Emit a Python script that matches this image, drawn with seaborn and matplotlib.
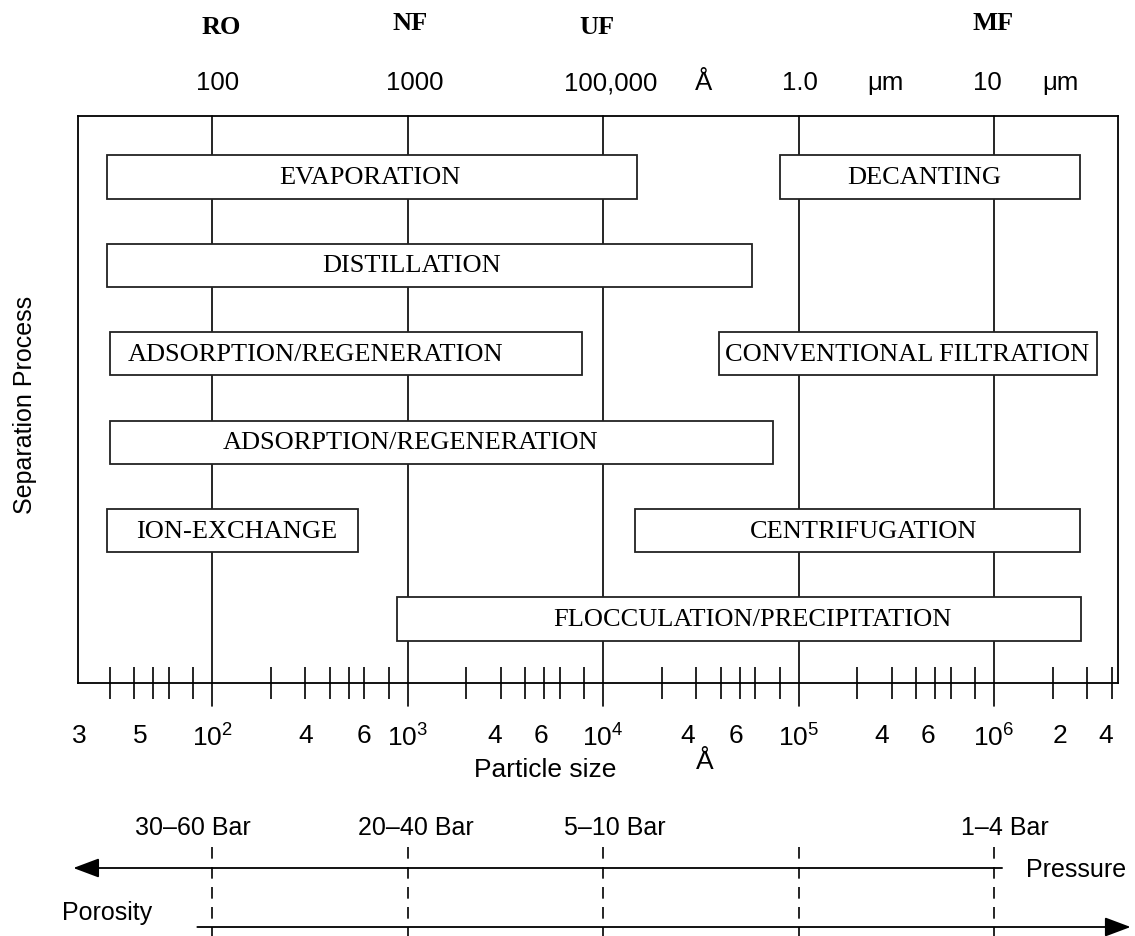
import numpy as np
import matplotlib
matplotlib.use("Agg")
import matplotlib.pyplot as plt
import matplotlib.transforms as mtransforms
from matplotlib.ticker import FixedLocator, NullFormatter
import seaborn as sns

sns.set_theme(style="white")
plt.rcParams["font.family"] = ["Liberation Sans", "DejaVu Sans"]
plt.rcParams["mathtext.default"] = "regular"

SERIF = ["Liberation Serif", "DejaVu Serif"]

# ── Data (particle size in Angstrom) ─────────────────────────────────────────
processes = ["EVAPORATION", "DECANTING", "DISTILLATION",
             "ADSORPTION/REGENERATION", "CONVENTIONAL FILTRATION",
             "ADSORPTION/REGENERATION", "ION-EXCHANGE", "CENTRIFUGATION",
             "FLOCCULATION/PRECIPITATION"]
rows = [0, 0, 1, 2, 2, 3, 4, 4, 5]
size_from = [29, 80000, 29, 30, 39000, 30, 29, 14500, 880]
size_to = [15000, 2.75e6, 58000, 7800, 3.35e6, 74000, 560, 2.75e6, 2.8e6]
label_at = [640, 4.4e5, 1050, 340, 3.6e5, 1040, 134, 2.16e5, 57800]

decades = [1e2, 1e3, 1e4, 1e5, 1e6]
minor_ticks = [30, 40, 50, 60, 80,
               200, 300, 400, 500, 600, 800,
               2000, 3000, 4000, 5000, 6000, 8000,
               2e4, 3e4, 4e4, 5e4, 6e4, 8e4,
               2e5, 3e5, 4e5, 5e5, 6e5, 8e5,
               2e6, 3e6, 4e6]
tick_pos = [21, 43, 100, 300, 600, 1000, 2800, 4800, 1e4,
            27000, 47600, 1e5, 2.67e5, 4.6e5, 1e6, 2.18e6, 3.74e6]
tick_text = ["3", "5", "$10^2$", "4", "6", "$10^3$", "4", "6", "$10^4$",
             "4", "6", "$10^5$", "4", "6", "$10^6$", "2", "4"]

membranes = ["RO", "NF", "UF", "MF"]
membrane_x = [112, 1030, 9300, 9.9e5]
scale_text = ["100", "1000", "100,000", "Å", "1.0", "μm", "10", "μm"]
scale_x = [107, 1090, 10900, 32500, 1.02e5, 2.8e5, 9.3e5, 2.18e6]

pressures = ["30–60 Bar", "20–40 Bar", "5–10 Bar", "1–4 Bar"]
pressure_x = [80, 1100, 11500, 1.14e6]

XLIM = (20.6, 4.31e6)
W, H = 1135, 937


def fy(py):
    return 1 - py / H


# ── Main panel ───────────────────────────────────────────────────────────────
fig = plt.figure(figsize=(W / 100, H / 100), dpi=100)
ax = fig.add_axes([78 / W, fy(684), (1118 - 78) / W, (684 - 117) / H])
ax.set_xscale("log")
ax.set_xlim(*XLIM)
ax.set_ylim(5.724, -0.69)

for d in decades:
    ax.axvline(d, ymin=-0.04, ymax=1, color="black", lw=1.2, zorder=1,
               clip_on=False)

ax.barh(rows, width=np.array(size_to) - np.array(size_from), left=size_from,
        height=0.49, color="white", edgecolor="#222222", linewidth=1.3,
        zorder=3)
for name, r, lx in zip(processes, rows, label_at):
    ax.text(lx, r, name, ha="center", va="center", fontsize=19,
            family=SERIF, color="black", zorder=4)

for s in ax.spines.values():
    s.set_color("black")
    s.set_linewidth(1.3)

ax.xaxis.remove_overlapping_locs = False
ax.set_xticks(tick_pos)
ax.set_xticklabels(tick_text)
ax.xaxis.set_minor_locator(FixedLocator(minor_ticks))
ax.xaxis.set_minor_formatter(NullFormatter())
ax.tick_params(axis="x", which="major", length=0, pad=29, labelsize=19,
               labelcolor="black", bottom=True)
ax.tick_params(axis="x", which="minor", direction="inout", length=23,
               width=1.2, color="black", bottom=True)
ax.set_yticks([])

top = mtransforms.blended_transform_factory(ax.transData, fig.transFigure)
for name, x, py in zip(membranes, membrane_x, [28, 23, 28, 23]):
    ax.text(x, fy(py), name, transform=top, ha="center", va="center",
            fontsize=19, fontweight="bold", family=SERIF, color="black")
for t, x in zip(scale_text, scale_x):
    ax.text(x, fy(83), t, transform=top, ha="center", va="center",
            fontsize=18.5, color="black")

fig.text(25 / W, fy(405), "Separation Process", rotation=90,
         ha="center", va="center", fontsize=18, color="black")
fig.text(545 / W, fy(770), "Particle size", ha="center", va="center",
         fontsize=19, color="black")
fig.text(705 / W, fy(762), "Å", ha="center", va="center",
         fontsize=19, color="black")

# ── Pressure / porosity strip ────────────────────────────────────────────────
axp = fig.add_axes([78 / W, 0, (1118 - 78) / W, (937 - 835) / H])
axp.set_xscale("log")
axp.set_xlim(*XLIM)
axp.set_ylim(937, 835)
axp.axis("off")

axp.vlines(decades, 848, 937, colors="black", lw=1.2,
           linestyles=(0, (7, 5)))
head = "-|>,head_length=0.8,head_width=0.3"
axp.annotate("", xy=(19.5, 869), xytext=(1.1e6, 869),
             arrowprops=dict(arrowstyle=head, color="black", lw=1.3,
                             mutation_scale=20, shrinkA=0, shrinkB=0),
             annotation_clip=False)
axp.annotate("", xy=(5.0e6, 928), xytext=(84, 928),
             arrowprops=dict(arrowstyle=head, color="black", lw=1.3,
                             mutation_scale=20, shrinkA=0, shrinkB=0),
             annotation_clip=False)
for t, x in zip(pressures, pressure_x):
    axp.text(x, 828, t, ha="center", va="center", fontsize=18,
             color="black", clip_on=False)
axp.text(1.46e6, 870, "Pressure", ha="left", va="center", fontsize=18,
         color="black", clip_on=False)
axp.text(29, 913, "Porosity", ha="center", va="center", fontsize=18,
         color="black", clip_on=False)

fig.savefig("out.png", dpi=100)
